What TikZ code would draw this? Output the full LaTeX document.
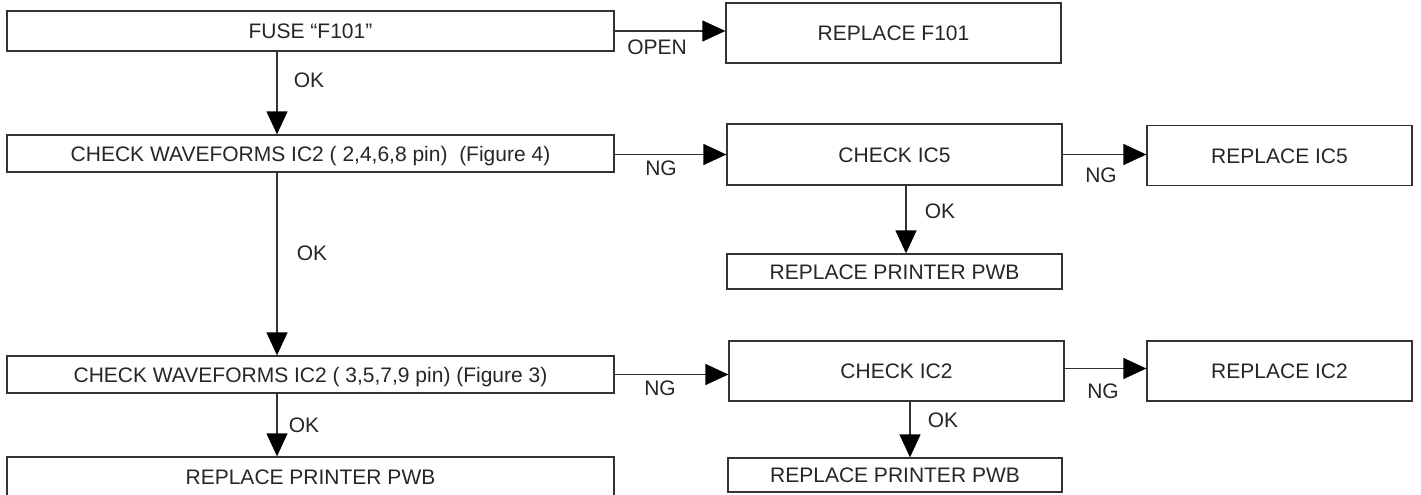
\documentclass[tikz,border=0pt]{standalone}
\usepackage{fontspec}
\setmainfont{Liberation Sans}
\usetikzlibrary{arrows.meta}
\begin{document}
\begin{tikzpicture}[x=1pt,y=-1pt,
  box/.style={draw=black!80, line width=1.3pt, inner sep=0pt, font=\fontsize{21}{25}\selectfont, text=black!85, text height=15pt, text depth=0pt},
  lbl/.style={inner sep=0pt, font=\fontsize{21}{25}\selectfont, text=black!85, text height=15pt, text depth=0pt},
  arr/.style={draw=black!80, line width=1.3pt, -{Triangle[length=23pt,width=21pt,color=black]}}]
\useasboundingbox (0,0) rectangle (1421,495);
% boxes
\node[box, minimum width=607pt, minimum height=40pt] (A) at (310.5,31) {FUSE “F101”};
\node[box, minimum width=335pt, minimum height=60pt] (B) at (893.5,33) {REPLACE F101};
\node[box, minimum width=607pt, minimum height=37pt] (C) at (310.5,153.5) {CHECK WAVEFORMS IC2 ( 2,4,6,8 pin) \ (Figure 4)};
\node[box, minimum width=335pt, minimum height=61pt] (D) at (894.5,154.5) {CHECK IC5};
\node[box, minimum width=265pt, minimum height=60pt] (E) at (1279.5,155.7) {REPLACE IC5};
\node[box, minimum width=335pt, minimum height=35pt] (F) at (894.5,271.5) {REPLACE PRINTER PWB};
\node[box, minimum width=607pt, minimum height=37pt] (G) at (310.5,374.5) {CHECK WAVEFORMS IC2 ( 3,5,7,9 pin) (Figure 3)};
\node[box, minimum width=335pt, minimum height=60pt] (H) at (896.5,371) {CHECK IC2};
\node[box, minimum width=265pt, minimum height=60pt] (I) at (1279.5,371) {REPLACE IC2};
\node[box, minimum width=334pt, minimum height=34pt] (J) at (895,475) {REPLACE PRINTER PWB};
\node[box, minimum width=607pt, minimum height=39pt] (K) at (310.5,476.5) {REPLACE PRINTER PWB};
% columns for vertical connectors
\coordinate (colL) at (277,0);
\coordinate (colM) at (906,0);
\coordinate (colN) at (910,0);
% connectors
\draw[arr] (A.east) -- (A.east -| B.west);
\draw[arr] (A.south -| colL) -- (C.north -| colL);
\draw[arr] (C.east |- D.west) -- (D.west);
\draw[arr] (D.east) -- (D.east -| E.west);
\draw[arr] (D.south -| colM) -- (F.north -| colM);
\draw[arr] (C.south -| colL) -- (G.north -| colL);
\draw[arr] (G.east) -- (G.east -| H.west);
\draw[arr] ([yshift=2.5pt]H.east) -- ([yshift=2.5pt]H.east -| I.west);
\draw[arr] (H.south -| colN) -- (J.north -| colN);
\draw[arr] (G.south -| colL) -- (K.north -| colL);
% labels
\node[lbl] (lOpen) at (657,47) {OPEN};
\node[lbl] (lOK1) at (309,80) {OK};
\node[lbl] (lNG1) at (661,168) {NG};
\node[lbl] (lNG2) at (1101,175) {NG};
\node[lbl] (lOK3) at (940,211) {OK};
\node[lbl] (lOK2) at (312,253) {OK};
\node[lbl] (lNG3) at (660,388) {NG};
\node[lbl] (lNG4) at (1103,391) {NG};
\node[lbl] (lOK5) at (943,420) {OK};
\node[lbl] (lOK4) at (304,425) {OK};
\end{tikzpicture}
\end{document}
